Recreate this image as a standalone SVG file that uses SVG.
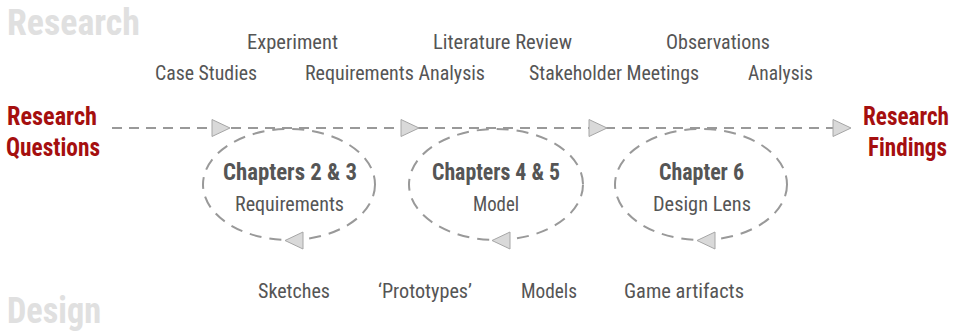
<svg xmlns="http://www.w3.org/2000/svg" width="956" height="333" viewBox="0 0 956 333">
<style>
text{font-family:"Roboto Condensed","Roboto","Liberation Sans",sans-serif;font-stretch:condensed}
.bg{font-weight:bold;fill:#e0e0e0;font-size:37px}
.red{font-weight:bold;fill:#a50f0f;font-size:25px}
.lbl{fill:#555;font-size:20px}
.t1{fill:#555;font-size:24px;font-weight:bold}
.t2{fill:#555;font-size:21px}
.dash{fill:none;stroke:#999;stroke-width:2;stroke-dasharray:10 7}
.ell{fill:none;stroke:#999;stroke-width:2;stroke-dasharray:12 8}
.ah{fill:#d9d9d9;stroke:#a6a6a6;stroke-width:1}
</style>
<rect width="956" height="333" fill="#fff"/>
<text class="bg" x="7" y="35" textLength="133" lengthAdjust="spacingAndGlyphs">Research</text>
<text class="bg" x="7" y="323" textLength="94" lengthAdjust="spacingAndGlyphs">Design</text>
<g id="questions">
<text class="red" x="7" y="125" textLength="90" lengthAdjust="spacingAndGlyphs">Research</text>
<text class="red" x="6" y="156" textLength="94" lengthAdjust="spacingAndGlyphs">Questions</text>
</g>
<g id="findings">
<text class="red" x="863" y="125" textLength="86" lengthAdjust="spacingAndGlyphs">Research</text>
<text class="red" x="868" y="156" textLength="79" lengthAdjust="spacingAndGlyphs">Findings</text>
</g>
<g id="research-labels">
<text class="lbl" x="247" y="49" textLength="91" lengthAdjust="spacingAndGlyphs">Experiment</text>
<text class="lbl" x="433" y="49" textLength="139" lengthAdjust="spacingAndGlyphs">Literature Review</text>
<text class="lbl" x="666" y="49" textLength="104" lengthAdjust="spacingAndGlyphs">Observations</text>
<text class="lbl" x="155" y="80" textLength="102" lengthAdjust="spacingAndGlyphs">Case Studies</text>
<text class="lbl" x="305" y="80" textLength="180" lengthAdjust="spacingAndGlyphs">Requirements Analysis</text>
<text class="lbl" x="529" y="80" textLength="170" lengthAdjust="spacingAndGlyphs">Stakeholder Meetings</text>
<text class="lbl" x="748" y="80" textLength="65" lengthAdjust="spacingAndGlyphs">Analysis</text>
</g>
<g id="design-labels">
<text class="lbl" x="258" y="298" textLength="72" lengthAdjust="spacingAndGlyphs">Sketches</text>
<text class="lbl" x="378" y="298" textLength="94" lengthAdjust="spacingAndGlyphs">‘Prototypes’</text>
<text class="lbl" x="521" y="298" textLength="56" lengthAdjust="spacingAndGlyphs">Models</text>
<text class="lbl" x="624" y="298" textLength="120" lengthAdjust="spacingAndGlyphs">Game artifacts</text>
</g>
<g id="connectors">
<line class="dash" x1="112" y1="128" x2="833" y2="128"/>
<polygon class="ah" points="212,119.5 230,128 212,136.5"/>
<polygon class="ah" points="401,119.5 419,128 401,136.5"/>
<polygon class="ah" points="589,119.5 607,128 589,136.5"/>
<polygon class="ah" points="833,119.5 851,128 833,136.5"/>
</g>
<g id="ch23">
<ellipse class="ell" cx="289" cy="184.5" rx="86" ry="55.5"/>
<polygon class="ah" points="285,240.5 303,232 303,249"/>
<text class="t1" x="223" y="180" textLength="134" lengthAdjust="spacingAndGlyphs">Chapters 2 &amp; 3</text>
<text class="t2" x="235" y="211" textLength="109" lengthAdjust="spacingAndGlyphs">Requirements</text>
</g>
<g id="ch45">
<ellipse class="ell" cx="496" cy="184.5" rx="87" ry="55.5"/>
<polygon class="ah" points="492,240.5 510,232 510,249"/>
<text class="t1" x="432" y="180" textLength="128" lengthAdjust="spacingAndGlyphs">Chapters 4 &amp; 5</text>
<text class="t2" x="473" y="211" textLength="46" lengthAdjust="spacingAndGlyphs">Model</text>
</g>
<g id="ch6">
<ellipse class="ell" cx="701" cy="184.5" rx="86" ry="55.5"/>
<polygon class="ah" points="697,240.5 715,232 715,249"/>
<text class="t1" x="659" y="180" textLength="85" lengthAdjust="spacingAndGlyphs">Chapter 6</text>
<text class="t2" x="653" y="211" textLength="98" lengthAdjust="spacingAndGlyphs">Design Lens</text>
</g>
</svg>
